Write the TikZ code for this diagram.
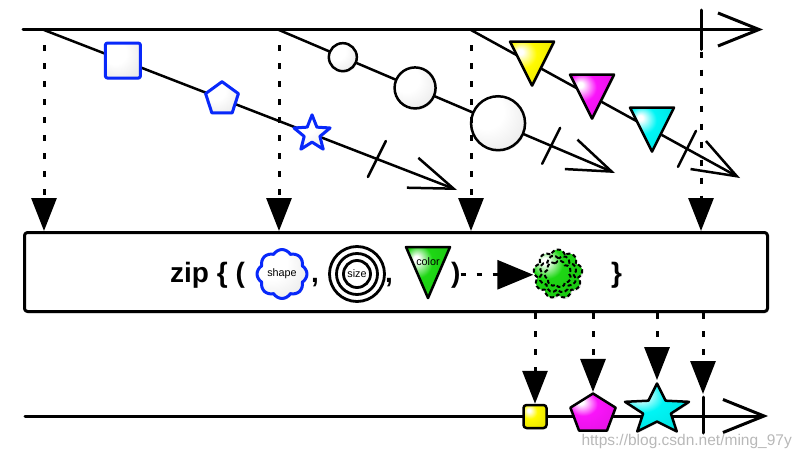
\documentclass[tikz,border=0pt]{standalone}
\usepackage{fontspec}
\setmainfont{Liberation Sans}
\usetikzlibrary{positioning,calc,arrows.meta,shapes.geometric,shapes.symbols,shadows}

\definecolor{marbleblue}{RGB}{8,40,250}
\definecolor{marbleyellow}{RGB}{255,250,0}
\definecolor{marblemagenta}{RGB}{250,20,250}
\definecolor{marblecyan}{RGB}{0,245,245}
\definecolor{marblegreen}{RGB}{30,215,20}

\colorlet{glosscol}{white}
\pgfdeclareradialshading[glosscol]{glossy}{\pgfpoint{-14bp}{14bp}}{%
  color(0bp)=(white); color(3bp)=(white); color(16bp)=(glosscol);
  color(42bp)=(glosscol!90!black); color(72bp)=(glosscol!55!black)}

\begin{document}
\begin{tikzpicture}[x=1pt, y=-1pt, line join=round,
  timeline/.style={line width=3pt, line cap=round, -{Straight Barb[length=41pt,width=33pt]}},
  flow/.style={line width=2.5pt, line cap=round, -{Straight Barb[length=44pt,width=32pt]}},
  tickmark/.style={line width=2.5pt, line cap=round},
  feed/.style={line width=3pt, dash pattern=on 6pt off 12pt, -{Triangle[length=33pt,width=25pt]}},
  marble/.style={draw, line width=2.5pt, inner sep=0pt, shading=glossy,
    /utils/exec={\colorlet{glosscol}{#1}},
    drop shadow={opacity=0.22, shadow xshift=1pt, shadow yshift=-1.5pt}},
  marble/.default=white,
  bluemarble/.style={marble=white, draw=marbleblue, line width=3pt},
  ring/.style={circle, draw, line width=2.8pt, inner sep=0pt},
  zipframe/.style={draw, line width=3pt, rounded corners=3pt, fill=white,
    minimum width=743pt, minimum height=79pt,
    drop shadow={opacity=0.12, shadow xshift=1.5pt, shadow yshift=-2pt}},
  ziptext/.style={font=\bfseries\fontsize{28}{30}\selectfont, inner sep=0pt, anchor=base west},
  marblelabel/.style={font=\fontsize{10.8}{12}\selectfont, inner sep=0pt},
  blobline/.style={cloud, cloud puffs=9, aspect=1, draw, line width=2pt,
    dash pattern=on 4pt off 2.5pt, inner sep=0pt}
]
\useasboundingbox (0,0) rectangle (801,458);

% =========================
% input streams
% =========================
\coordinate (topstart) at (23,29.5);
\coordinate (topend) at (763,29.5);
\coordinate (toptick) at (701,29.5);
\coordinate (s1) at (44,30);   \coordinate (e1) at (457,190);
\coordinate (s2) at (279,30);  \coordinate (e2) at (615,173);
\coordinate (s3) at (471,30);  \coordinate (e3) at (740,178);

\draw[timeline] (topstart) -- (topend);
\draw[tickmark, line width=3pt] ($(toptick)+(0,-19.5)$) -- ($(toptick)+(0,20)$);

\draw[flow] (s1) -- (e1);
\draw[flow] (s2) -- (e2);
\draw[flow] (s3) -- (e3);

% completion ticks
\coordinate (t1) at ($(s1)!0.806!(e1)$);
\coordinate (t2) at ($(s2)!0.81!(e2)$);
\coordinate (t3) at ($(s3)!0.803!(e3)$);
\foreach \t in {t1,t2,t3}
  \draw[tickmark] ($(\t)+(-9,18)$) -- ($(\t)+(9,-18)$);

% shapes
\node[bluemarble, rectangle, rounded corners=2pt, minimum size=35pt] (sqmarble) at ($(s1)!0.191!(e1)$) {};
\node[bluemarble, regular polygon, regular polygon sides=5, minimum size=34.5pt] (pentmarble) at ($(s1)!0.431!(e1)$) {};
\node[bluemarble, star, star points=5, star point ratio=2.3, minimum size=38pt] (starmarble) at ($(s1)!0.649!(e1)$) {};

% sizes
\node[marble, circle, minimum size=28pt] (smallball) at ($(s2)!0.19!(e2)$) {};
\node[marble, circle, minimum size=41pt] (midball) at ($(s2)!0.405!(e2)$) {};
\node[marble, circle, minimum size=54pt] (bigball) at ($(s2)!0.652!(e2)$) {};

% colours
\coordinate (yellowtri) at ($(s3)!0.227!(e3)$);
\coordinate (magentatri) at ($(s3)!0.45!(e3)$);
\coordinate (cyantri) at ($(s3)!0.673!(e3)$);
\path[marble=marbleyellow] ($(yellowtri)+(-22,-22)$) -- ($(yellowtri)+(22,-22)$) -- ($(yellowtri)+(0,22)$) -- cycle;
\path[marble=marblemagenta] ($(magentatri)+(-22,-22)$) -- ($(magentatri)+(22,-22)$) -- ($(magentatri)+(0,22)$) -- cycle;
\path[marble=marblecyan] ($(cyantri)+(-22,-22)$) -- ($(cyantri)+(22,-22)$) -- ($(cyantri)+(0,22)$) -- cycle;

% =========================
% operator box
% =========================
\node[zipframe] (zipbox) at (396,272) {};

\node[ziptext] (zipword) at (170,282) {zip \{ (};
\node[bluemarble, cloud, cloud puffs=8, cloud puff arc=120, aspect=1,
  minimum width=50pt, minimum height=49pt] (shapecloud) at (282,274) {};
\node[marblelabel] (shapetext) at (shapecloud) {shape};
\node[ziptext] (comma1) at (311,282) {,};

\node[ring, minimum size=55pt] (ringouter) at (357,274) {};
\node[ring, minimum size=41pt] (ringmid) at (ringouter) {};
\node[ring, minimum size=27pt] (ringinner) at (ringouter) {};
\node[marblelabel] (sizetext) at (ringouter) {size};
\node[ziptext] (comma2) at (385,282) {,};

\coordinate (colortri) at (428,272.5);
\path[marble=marblegreen] ($(colortri)+(-22,-25.5)$) -- ($(colortri)+(22,-25.5)$) -- ($(colortri)+(0,25.5)$) -- cycle;
\node[marblelabel] (colortext) at ($(colortri)+(0,-10.5)$) {color};
\node[ziptext] (rparen) at (451,282) {)};

\node[blobline, marble=marblegreen, line width=2pt, minimum size=49pt] (zipped) at (558,274) {};
\node[blobline, cloud puffs=8, rotate=20, minimum size=38pt] (zippedmid) at (zipped) {};
\node[blobline, cloud puffs=7, rotate=40, minimum size=27pt] (zippedinner) at (zipped) {};
\node[ziptext] (rbrace) at (611,282) {\}};

\draw[line width=3pt, dash pattern=on 5pt off 11pt, -{Triangle[length=36pt,width=29pt]}]
  (rparen.east) -- (rparen.east -| zipped.west);

% =========================
% output stream
% =========================
\coordinate (outstart) at (25,416);
\coordinate (outend) at (768,416);
\coordinate (outtick) at (703,415);
\draw[timeline] (outstart) -- (outend);
\draw[tickmark, line width=3pt] ($(outtick)+(0,-18)$) -- ($(outtick)+(0,18)$);

\node[marble=marbleyellow, rectangle, rounded corners=3pt, minimum size=23pt] (outsq) at (535,416.5) {};
\begin{scope}[shift={(593,414)}, xscale=1.16]
  \node[marble=marblemagenta, regular polygon, regular polygon sides=5, minimum size=41pt, transform shape] (outpent) at (0,0) {};
\end{scope}
\begin{scope}[shift={(657,410)}, xscale=1.27]
  \node[marble=marblecyan, star, star points=5, star point ratio=2.3, minimum size=53pt, transform shape] (outstar) at (0,0) {};
\end{scope}

% =========================
% dotted feeds
% =========================
\foreach \s in {s1,s2,s3}
  \draw[feed] ($(\s)+(0,15)$) -- (\s |- zipbox.north);
\draw[feed] ($(toptick)+(0,22)$) -- (toptick |- zipbox.north);

\draw[feed] (outsq.north |- zipbox.south) -- (outsq.north);
\draw[feed] (outpent.north |- zipbox.south) -- (outpent.north);
\draw[feed] (outstar.north |- zipbox.south) -- (outstar.north);
\draw[feed] (outtick |- zipbox.south) -- ($(outtick)+(0,-21)$);

% watermark
\node[font=\fontsize{15.5}{17}\selectfont, text=black!28, inner sep=0pt, anchor=base east] (watermark) at (792,445) {https://blog.csdn.net/ming\_97y};

\end{tikzpicture}
\end{document}
